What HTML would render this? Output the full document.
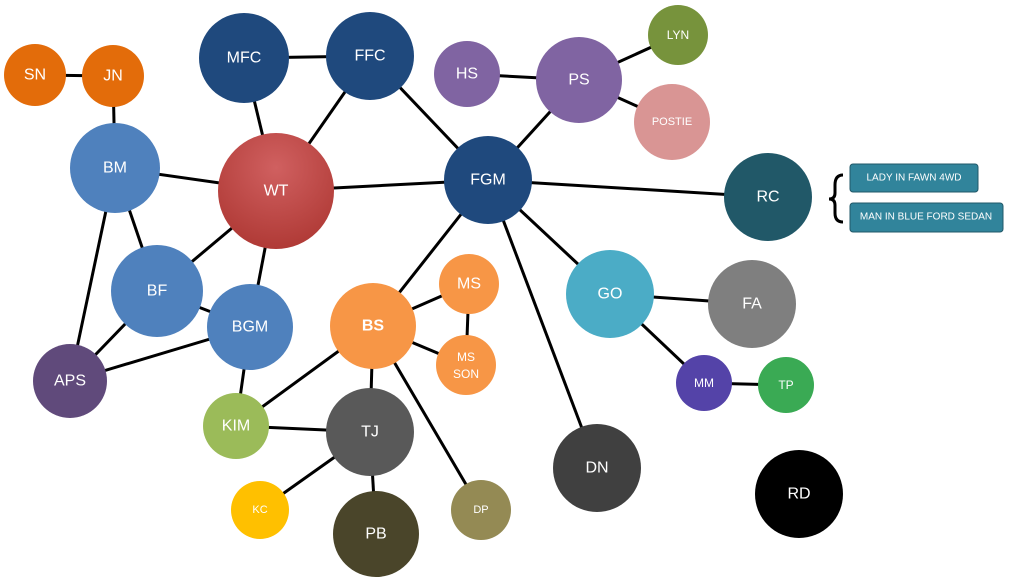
<!DOCTYPE html>
<html><head><meta charset="utf-8"><style>
html,body{margin:0;padding:0;background:#fff;width:1024px;height:581px;overflow:hidden}
text{font-family:"Liberation Sans",sans-serif;fill:#fff;text-anchor:middle;dominant-baseline:central}
</style></head><body>
<svg width="1024" height="581" viewBox="0 0 1024 581" xmlns="http://www.w3.org/2000/svg">
<defs>
<radialGradient id="wt" cx="50%" cy="30%" r="70%"><stop offset="0" stop-color="#d06060"/><stop offset="1" stop-color="#b03a36"/></radialGradient>
</defs>
<g stroke="#000" stroke-width="3">
<line x1="35" y1="75" x2="113" y2="76"/>
<line x1="113" y1="76" x2="115" y2="168"/>
<line x1="244" y1="58" x2="370" y2="56"/>
<line x1="244" y1="58" x2="276" y2="191"/>
<line x1="370" y1="56" x2="276" y2="191"/>
<line x1="370" y1="56" x2="488" y2="180"/>
<line x1="467" y1="74" x2="579" y2="80"/>
<line x1="579" y1="80" x2="678" y2="35"/>
<line x1="579" y1="80" x2="672" y2="122"/>
<line x1="579" y1="80" x2="488" y2="180"/>
<line x1="115" y1="168" x2="276" y2="191"/>
<line x1="115" y1="168" x2="157" y2="291"/>
<line x1="115" y1="168" x2="70" y2="381"/>
<line x1="276" y1="191" x2="488" y2="180"/>
<line x1="276" y1="191" x2="157" y2="291"/>
<line x1="276" y1="191" x2="250" y2="327"/>
<line x1="488" y1="180" x2="768" y2="197"/>
<line x1="488" y1="180" x2="373" y2="326"/>
<line x1="488" y1="180" x2="610" y2="294"/>
<line x1="488" y1="180" x2="597" y2="468"/>
<line x1="157" y1="291" x2="250" y2="327"/>
<line x1="157" y1="291" x2="70" y2="381"/>
<line x1="250" y1="327" x2="70" y2="381"/>
<line x1="250" y1="327" x2="236" y2="426"/>
<line x1="373" y1="326" x2="469" y2="284"/>
<line x1="373" y1="326" x2="466" y2="365"/>
<line x1="469" y1="284" x2="466" y2="365"/>
<line x1="373" y1="326" x2="236" y2="426"/>
<line x1="373" y1="326" x2="370" y2="432"/>
<line x1="373" y1="326" x2="481" y2="510"/>
<line x1="236" y1="426" x2="370" y2="432"/>
<line x1="370" y1="432" x2="260" y2="510"/>
<line x1="370" y1="432" x2="376" y2="534"/>
<line x1="610" y1="294" x2="752" y2="304"/>
<line x1="610" y1="294" x2="704" y2="383"/>
<line x1="704" y1="383" x2="786" y2="385"/>
</g>
<g font-size="16">
<circle cx="35" cy="75" r="31" fill="#e36c0a"/><text x="35" y="75">SN</text>
<circle cx="113" cy="76" r="31" fill="#e36c0a"/><text x="113" y="76">JN</text>
<circle cx="244" cy="58" r="45" fill="#1f497d"/><text x="244" y="58">MFC</text>
<circle cx="370" cy="56" r="44" fill="#1f497d"/><text x="370" y="56">FFC</text>
<circle cx="467" cy="74" r="33" fill="#8064a2"/><text x="467" y="74">HS</text>
<circle cx="579" cy="80" r="43" fill="#8064a2"/><text x="579" y="80">PS</text>
<circle cx="678" cy="35" r="30" fill="#77933c"/><text x="678" y="35" font-size="12">LYN</text>
<circle cx="672" cy="122" r="38" fill="#d99594"/><text x="672" y="122" font-size="11">POSTIE</text>
<circle cx="115" cy="168" r="45" fill="#4f81bd"/><text x="115" y="168">BM</text>
<circle cx="276" cy="191" r="58" fill="url(#wt)"/><text x="276" y="191">WT</text>
<circle cx="488" cy="180" r="44" fill="#1f497d"/><text x="488" y="180">FGM</text>
<circle cx="768" cy="197" r="44" fill="#215868"/><text x="768" y="197">RC</text>
<circle cx="157" cy="291" r="46" fill="#4f81bd"/><text x="157" y="291">BF</text>
<circle cx="250" cy="327" r="43" fill="#4f81bd"/><text x="250" y="327">BGM</text>
<circle cx="373" cy="326" r="43" fill="#f79646"/><text x="373" y="326" font-weight="bold">BS</text>
<circle cx="469" cy="284" r="30" fill="#f79646"/><text x="469" y="284">MS</text>
<circle cx="466" cy="365" r="30" fill="#f79646"/><text x="466" y="357" font-size="12">MS</text><text x="466" y="374" font-size="12">SON</text>
<circle cx="610" cy="294" r="44" fill="#4bacc6"/><text x="610" y="294">GO</text>
<circle cx="752" cy="304" r="44" fill="#7f7f7f"/><text x="752" y="304">FA</text>
<circle cx="704" cy="383" r="28" fill="#5443a8"/><text x="704" y="383" font-size="12">MM</text>
<circle cx="786" cy="385" r="28" fill="#3aaa54"/><text x="786" y="385" font-size="12">TP</text>
<circle cx="70" cy="381" r="37" fill="#604a7b"/><text x="70" y="381">APS</text>
<circle cx="236" cy="426" r="33" fill="#9bbb59"/><text x="236" y="426">KIM</text>
<circle cx="370" cy="432" r="44" fill="#595959"/><text x="370" y="432">TJ</text>
<circle cx="597" cy="468" r="44" fill="#404040"/><text x="597" y="468">DN</text>
<circle cx="260" cy="510" r="29" fill="#ffc000"/><text x="260" y="510" font-size="11">KC</text>
<circle cx="376" cy="534" r="43" fill="#4a452a"/><text x="376" y="534">PB</text>
<circle cx="481" cy="510" r="30" fill="#948a54"/><text x="481" y="510" font-size="11">DP</text>
<circle cx="799" cy="494" r="44" fill="#000"/><text x="799" y="494">RD</text>
</g>
<path d="M843 175 Q835 175 835 185 L835 193 Q835 199 829 199 Q835 199 835 205 L835 213 Q835 222 843 222" fill="none" stroke="#000" stroke-width="3"/>
<rect x="850" y="164" width="128" height="28" rx="3" fill="#31849b" stroke="#215868"/>
<text x="914" y="178" font-size="10">LADY IN FAWN 4WD</text>
<rect x="850" y="203" width="153" height="29" rx="3" fill="#31849b" stroke="#215868"/>
<text x="926" y="217" font-size="10">MAN IN BLUE FORD SEDAN</text>
</svg>
</body></html>
